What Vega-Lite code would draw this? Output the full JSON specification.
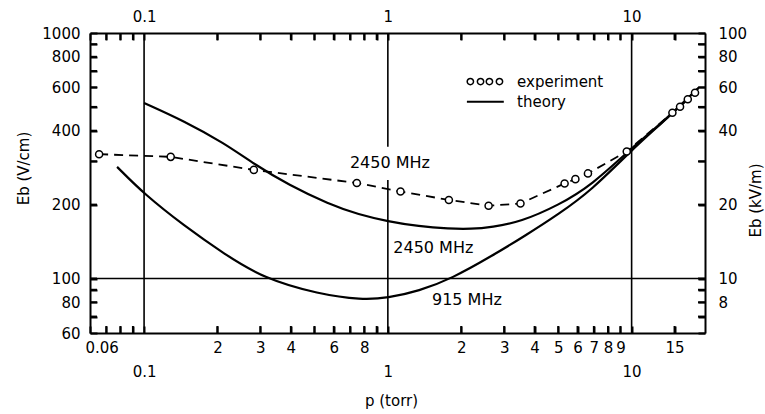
{
  "$schema": "https://vega.github.io/schema/vega-lite/v6.json",
  "width": 615,
  "height": 300,
  "autosize": {"type": "none"},
  "padding": {"left": 90, "top": 33, "right": 60, "bottom": 81},
  "background": "white",
  "config": {"view": {"stroke": null}, "font": "DejaVu Sans"},
  "datasets": {
    "vgrid": [
      {"p": 0.1, "lo": 60, "hi": 1000},
      {"p": 10, "lo": 60, "hi": 1000},
      {"p": 1, "lo": 60, "hi": 252},
      {"p": 1, "lo": 344, "hi": 1000}
    ],
    "hgrid": [{"e": 100, "lo": 0.06, "hi": 20}],
    "xticks": [
      {"p": 0.07}, {"p": 0.08}, {"p": 0.09}, {"p": 0.2}, {"p": 0.3}, {"p": 0.4}, {"p": 0.5}, {"p": 0.6}, {"p": 0.7}, {"p": 0.8}, {"p": 0.9},
      {"p": 2}, {"p": 3}, {"p": 4}, {"p": 5}, {"p": 6}, {"p": 7}, {"p": 8}, {"p": 9}, {"p": 15}
    ],
    "yticks": [
      {"e": 70}, {"e": 80}, {"e": 90}, {"e": 100}, {"e": 200}, {"e": 300}, {"e": 400}, {"e": 500}, {"e": 600}, {"e": 700}, {"e": 800}, {"e": 900}
    ],
    "theory": [
      {"curve": "2450", "p": 0.1, "e": 519},
      {"curve": "2450", "p": 0.146, "e": 438},
      {"curve": "2450", "p": 0.213, "e": 356},
      {"curve": "2450", "p": 0.282, "e": 293},
      {"curve": "2450", "p": 0.393, "e": 240},
      {"curve": "2450", "p": 0.573, "e": 201},
      {"curve": "2450", "p": 0.76, "e": 182},
      {"curve": "2450", "p": 1.0, "e": 171},
      {"curve": "2450", "p": 1.34, "e": 163},
      {"curve": "2450", "p": 1.78, "e": 159.5},
      {"curve": "2450", "p": 2.2, "e": 159},
      {"curve": "2450", "p": 2.67, "e": 162},
      {"curve": "2450", "p": 3.5, "e": 170},
      {"curve": "2450", "p": 5.02, "e": 199},
      {"curve": "2450", "p": 6.86, "e": 240},
      {"curve": "2450", "p": 10, "e": 340},
      {"curve": "2450", "p": 14.2, "e": 455},
      {"curve": "2450", "p": 18.8, "e": 597},
      {"curve": "915", "p": 0.0775, "e": 285},
      {"curve": "915", "p": 0.1, "e": 221},
      {"curve": "915", "p": 0.146, "e": 164},
      {"curve": "915", "p": 0.213, "e": 126},
      {"curve": "915", "p": 0.31, "e": 100},
      {"curve": "915", "p": 0.521, "e": 86.4},
      {"curve": "915", "p": 0.78, "e": 81.8},
      {"curve": "915", "p": 1.0, "e": 83.3},
      {"curve": "915", "p": 1.34, "e": 88.9},
      {"curve": "915", "p": 1.83, "e": 100},
      {"curve": "915", "p": 2.67, "e": 123.5},
      {"curve": "915", "p": 3.68, "e": 150},
      {"curve": "915", "p": 5.02, "e": 183},
      {"curve": "915", "p": 6.86, "e": 229},
      {"curve": "915", "p": 10, "e": 334},
      {"curve": "915", "p": 14.2, "e": 455},
      {"curve": "915", "p": 18.8, "e": 597}
    ],
    "experiment": [
      {"p": 0.0654, "e": 321},
      {"p": 0.1286, "e": 313},
      {"p": 0.282, "e": 277},
      {"p": 0.746, "e": 245},
      {"p": 1.127, "e": 226},
      {"p": 1.78, "e": 209},
      {"p": 2.59, "e": 198},
      {"p": 3.5, "e": 202},
      {"p": 5.31, "e": 244},
      {"p": 5.88, "e": 254},
      {"p": 6.62, "e": 268},
      {"p": 9.55, "e": 329},
      {"p": 14.7, "e": 473},
      {"p": 15.8, "e": 501},
      {"p": 17.0, "e": 537},
      {"p": 18.2, "e": 571}
    ],
    "labels": [
      {"p": 1.02, "e": 296, "text": "2450 MHz"},
      {"p": 1.536, "e": 133, "text": "2450 MHz"},
      {"p": 2.11, "e": 81.8, "text": "915 MHz"}
    ],
    "legendPts": [
      {"p": 2.18, "e": 634},
      {"p": 2.4, "e": 634},
      {"p": 2.61, "e": 634},
      {"p": 2.87, "e": 634}
    ],
    "legendLine": [{"lo": 2.11, "hi": 2.99, "e": 525}],
    "legendText": [
      {"p": 3.39, "e": 634, "text": "experiment"},
      {"p": 3.39, "e": 525, "text": "theory"}
    ]
  },
  "resolve": {"axis": {"x": "independent", "y": "independent"}},
  "layer": [
    {
      "data": {"name": "vgrid"},
      "mark": {"type": "rule", "color": "black", "strokeWidth": 1.6},
      "encoding": {
        "x": {
          "field": "p", "type": "quantitative",
          "scale": {"type": "log", "domain": [0.06, 20], "nice": false},
          "axis": {
            "orient": "bottom",
            "values": [0.06, 0.07, 0.08, 0.09, 0.1, 0.2, 0.3, 0.4, 0.5, 0.6, 0.7, 0.8, 0.9, 1, 2, 3, 4, 5, 6, 7, 8, 9, 10, 15],
            "labelExpr": "datum.value == 0.06 ? '0.06' : datum.value == 0.1 ? ['', '0.1'] : datum.value == 1 ? ['', '1'] : datum.value == 10 ? ['', '10'] : indexof([0.2, 0.3, 0.4, 0.6, 0.8], datum.value) >= 0 ? format(datum.value * 10, '.0f') : indexof([2, 3, 4, 5, 6, 7, 8, 9, 15], datum.value) >= 0 ? format(datum.value, '.0f') : ''",
            "labelOverlap": false,
            "labelBound": false,
            "labelFlush": 1,
            "labelFlushOffset": 5,
            "labelLineHeight": 24,
            "labelFont": "DejaVu Sans",
            "labelFontSize": 15,
            "labelColor": "black",
            "labelPadding": 14,
            "ticks": true,
            "tickSize": -7,
            "tickWidth": 2,
            "tickColor": "#000000",
            "domainColor": "black",
            "domainWidth": 2,
            "grid": false,
            "title": "p (torr)",
            "titleFont": "DejaVu Sans",
            "titleFontSize": 15,
            "titleFontWeight": "normal",
            "titleColor": "black",
            "titleX": 301,
            "titleY": 67,
            "titleAlign": "center",
            "titleBaseline": "middle"
          }
        },
        "y": {
          "field": "lo", "type": "quantitative",
          "scale": {"type": "log", "domain": [60, 1000], "nice": false},
          "axis": {
            "orient": "left",
            "values": [60, 70, 80, 90, 100, 200, 300, 400, 500, 600, 700, 800, 900, 1000],
            "labelExpr": "indexof([60, 80, 100, 200, 400, 600, 800, 1000], datum.value) >= 0 ? format(datum.value, '.0f') : ''",
            "labelOverlap": false,
            "labelBound": false,
            "labelFont": "DejaVu Sans",
            "labelFontSize": 15,
            "labelColor": "black",
            "labelPadding": 17,
            "ticks": true,
            "tickSize": -7,
            "tickWidth": 2,
            "tickColor": "#000000",
            "domainColor": "black",
            "domainWidth": 2,
            "grid": false,
            "title": "Eb (V/cm)",
            "titleFont": "DejaVu Sans",
            "titleFontSize": 15,
            "titleFontWeight": "normal",
            "titleColor": "black",
            "titleAngle": 270,
            "titleX": -67,
            "titleY": 135,
            "titleAlign": "center",
            "titleBaseline": "middle"
          }
        },
        "y2": {"field": "hi"}
      }
    },
    {
      "data": {"name": "hgrid"},
      "mark": {"type": "rule", "color": "black", "strokeWidth": 1.6},
      "encoding": {
        "x": {
          "field": "lo", "type": "quantitative",
          "scale": {"type": "log", "domain": [0.06, 20], "nice": false},
          "axis": {
            "orient": "top",
            "values": [0.06, 0.07, 0.08, 0.09, 0.1, 0.2, 0.3, 0.4, 0.5, 0.6, 0.7, 0.8, 0.9, 1, 2, 3, 4, 5, 6, 7, 8, 9, 10, 15],
            "labelExpr": "datum.value == 0.1 ? '0.1' : datum.value == 1 ? '1' : datum.value == 10 ? '10' : ''",
            "labelOverlap": false,
            "labelBound": false,
            "labelFont": "DejaVu Sans",
            "labelFontSize": 15,
            "labelColor": "black",
            "labelPadding": 16,
            "ticks": true,
            "tickSize": -7,
            "tickWidth": 2,
            "tickColor": "#000000",
            "domainColor": "black",
            "domainWidth": 2,
            "grid": false,
            "title": null
          }
        },
        "x2": {"field": "hi"},
        "y": {
          "field": "e", "type": "quantitative",
          "scale": {"type": "log", "domain": [60, 1000], "nice": false},
          "axis": {
            "orient": "right",
            "values": [60, 70, 80, 90, 100, 200, 300, 400, 500, 600, 700, 800, 900, 1000],
            "labelExpr": "indexof([80, 100, 200, 400, 600, 800, 1000], datum.value) >= 0 ? format(datum.value / 10, '.0f') : ''",
            "labelOverlap": false,
            "labelBound": false,
            "labelFont": "DejaVu Sans",
            "labelFontSize": 15,
            "labelColor": "black",
            "labelPadding": 20,
            "ticks": true,
            "tickSize": -7,
            "tickWidth": 2,
            "tickColor": "#000000",
            "domainColor": "black",
            "domainWidth": 2,
            "grid": false,
            "title": "Eb (kV/m)",
            "titleFont": "DejaVu Sans",
            "titleFontSize": 15,
            "titleFontWeight": "normal",
            "titleColor": "black",
            "titleAngle": 270,
            "titleX": 50,
            "titleY": 167,
            "titleAlign": "center",
            "titleBaseline": "middle"
          }
        }
      }
    },
    {
      "data": {"name": "xticks"},
      "mark": {"type": "tick", "orient": "vertical", "size": 7, "thickness": 2, "color": "black", "opacity": 1, "yOffset": -3.5},
      "encoding": {
        "x": {"field": "p", "type": "quantitative", "scale": {"type": "log", "domain": [0.06, 20], "nice": false}, "axis": null},
        "y": {"datum": 60, "type": "quantitative", "scale": {"type": "log", "domain": [60, 1000], "nice": false}, "axis": null}
      }
    },
    {
      "data": {"name": "xticks"},
      "mark": {"type": "tick", "orient": "vertical", "size": 7, "thickness": 2, "color": "black", "opacity": 1, "yOffset": 3.5},
      "encoding": {
        "x": {"field": "p", "type": "quantitative", "scale": {"type": "log", "domain": [0.06, 20], "nice": false}, "axis": null},
        "y": {"datum": 1000, "type": "quantitative", "scale": {"type": "log", "domain": [60, 1000], "nice": false}, "axis": null}
      }
    },
    {
      "data": {"name": "yticks"},
      "mark": {"type": "tick", "orient": "horizontal", "size": 7, "thickness": 2, "color": "black", "opacity": 1, "xOffset": 3.5},
      "encoding": {
        "y": {"field": "e", "type": "quantitative", "scale": {"type": "log", "domain": [60, 1000], "nice": false}, "axis": null},
        "x": {"datum": 0.06, "type": "quantitative", "scale": {"type": "log", "domain": [0.06, 20], "nice": false}, "axis": null}
      }
    },
    {
      "data": {"name": "yticks"},
      "mark": {"type": "tick", "orient": "horizontal", "size": 7, "thickness": 2, "color": "black", "opacity": 1, "xOffset": -3.5},
      "encoding": {
        "y": {"field": "e", "type": "quantitative", "scale": {"type": "log", "domain": [60, 1000], "nice": false}, "axis": null},
        "x": {"datum": 20, "type": "quantitative", "scale": {"type": "log", "domain": [0.06, 20], "nice": false}, "axis": null}
      }
    },
    {
      "data": {"name": "theory"},
      "mark": {"type": "line", "color": "black", "strokeWidth": 2.2, "interpolate": "basis"},
      "encoding": {
        "x": {"field": "p", "type": "quantitative", "scale": {"type": "log", "domain": [0.06, 20], "nice": false}, "axis": null},
        "y": {"field": "e", "type": "quantitative", "scale": {"type": "log", "domain": [60, 1000], "nice": false}, "axis": null},
        "detail": {"field": "curve", "type": "nominal"}
      }
    },
    {
      "data": {"name": "experiment"},
      "mark": {"type": "line", "color": "black", "strokeWidth": 1.8, "strokeDash": [9, 6]},
      "encoding": {
        "x": {"field": "p", "type": "quantitative", "scale": {"type": "log", "domain": [0.06, 20], "nice": false}, "axis": null},
        "y": {"field": "e", "type": "quantitative", "scale": {"type": "log", "domain": [60, 1000], "nice": false}, "axis": null}
      }
    },
    {
      "data": {"name": "experiment"},
      "mark": {"type": "point", "shape": "circle", "size": 50, "filled": false, "fill": "white", "fillOpacity": 1, "stroke": "black", "strokeWidth": 1.5, "opacity": 1},
      "encoding": {
        "x": {"field": "p", "type": "quantitative", "scale": {"type": "log", "domain": [0.06, 20], "nice": false}, "axis": null},
        "y": {"field": "e", "type": "quantitative", "scale": {"type": "log", "domain": [60, 1000], "nice": false}, "axis": null}
      }
    },
    {
      "data": {"name": "labels"},
      "mark": {"type": "text", "font": "DejaVu Sans", "fontSize": 16, "color": "black", "align": "center", "baseline": "middle"},
      "encoding": {
        "x": {"field": "p", "type": "quantitative", "scale": {"type": "log", "domain": [0.06, 20], "nice": false}, "axis": null},
        "y": {"field": "e", "type": "quantitative", "scale": {"type": "log", "domain": [60, 1000], "nice": false}, "axis": null},
        "text": {"field": "text", "type": "nominal"}
      }
    },
    {
      "data": {"name": "legendPts"},
      "mark": {"type": "point", "shape": "circle", "size": 40, "filled": false, "fill": "white", "fillOpacity": 1, "stroke": "black", "strokeWidth": 1.5, "opacity": 1},
      "encoding": {
        "x": {"field": "p", "type": "quantitative", "scale": {"type": "log", "domain": [0.06, 20], "nice": false}, "axis": null},
        "y": {"field": "e", "type": "quantitative", "scale": {"type": "log", "domain": [60, 1000], "nice": false}, "axis": null}
      }
    },
    {
      "data": {"name": "legendLine"},
      "mark": {"type": "rule", "color": "black", "strokeWidth": 2},
      "encoding": {
        "x": {"field": "lo", "type": "quantitative", "scale": {"type": "log", "domain": [0.06, 20], "nice": false}, "axis": null},
        "x2": {"field": "hi"},
        "y": {"field": "e", "type": "quantitative", "scale": {"type": "log", "domain": [60, 1000], "nice": false}, "axis": null}
      }
    },
    {
      "data": {"name": "legendText"},
      "mark": {"type": "text", "font": "DejaVu Sans", "fontSize": 15, "color": "black", "align": "left", "baseline": "middle"},
      "encoding": {
        "x": {"field": "p", "type": "quantitative", "scale": {"type": "log", "domain": [0.06, 20], "nice": false}, "axis": null},
        "y": {"field": "e", "type": "quantitative", "scale": {"type": "log", "domain": [60, 1000], "nice": false}, "axis": null},
        "text": {"field": "text", "type": "nominal"}
      }
    }
  ]
}
